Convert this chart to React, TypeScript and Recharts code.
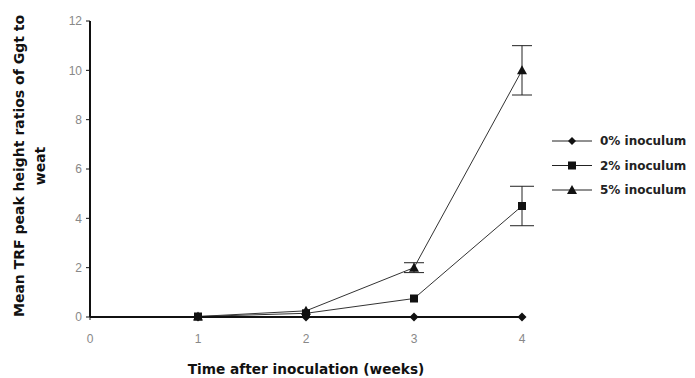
import React from 'react';
import { LineChart, Line, XAxis, YAxis, ErrorBar } from 'recharts';

const weeks = [1, 2, 3, 4];
const inoc0 = [0, 0, 0, 0];
const inoc2 = [0.02, 0.15, 0.75, 4.5];
const inoc5 = [0.02, 0.25, 2.0, 10.0];
const err2: (number | null)[] = [null, null, null, 0.8];
const err5: (number | null)[] = [null, null, 0.2, 1.0];
const yTicks = [0, 2, 4, 6, 8, 10, 12];
const xTicks = [0, 1, 2, 3, 4];
const seriesNames = ['0% inoculum', '2% inoculum', '5% inoculum'];

const data = weeks.map((w, i) => ({
  week: w,
  i0: inoc0[i],
  i2: inoc2[i],
  i5: inoc5[i],
  e2: err2[i] == null ? null : [err2[i], err2[i]],
  e5: err5[i] == null ? null : [err5[i], err5[i]],
}));

const FONT = '"Liberation Sans", Arial, sans-serif';
const BOLD = '"DejaVu Sans", Verdana, sans-serif';

const Diamond = (p: any) => {
  const { cx, cy } = p;
  if (cx == null || cy == null) return null;
  const r = 4.5;
  return <path key={`d${cx}`} d={`M${cx},${cy - r}L${cx + r},${cy}L${cx},${cy + r}L${cx - r},${cy}Z`} fill="#111" />;
};
const Square = (p: any) => {
  const { cx, cy } = p;
  if (cx == null || cy == null) return null;
  const s = 4;
  return <rect key={`s${cx}`} x={cx - s} y={cy - s} width={2 * s} height={2 * s} fill="#111" />;
};
const Triangle = (p: any) => {
  const { cx, cy } = p;
  if (cx == null || cy == null) return null;
  const r = 5;
  return <path key={`t${cx}`} d={`M${cx},${cy - r}L${cx + r},${cy + r * 0.8}L${cx - r},${cy + r * 0.8}Z`} fill="#111" />;
};

const LegendBox = () => {
  const shapes = [
    (x: number, y: number) => <path d={`M${x},${y - 4}L${x + 4},${y}L${x},${y + 4}L${x - 4},${y}Z`} fill="#111" />,
    (x: number, y: number) => <rect x={x - 4} y={y - 4} width={8} height={8} fill="#111" />,
    (x: number, y: number) => <path d={`M${x},${y - 5}L${x + 5},${y + 4}L${x - 5},${y + 4}Z`} fill="#111" />,
  ];
  return (
    <svg width={160} height={80} style={{ position: 'absolute', left: 540, top: 131 }}>
      {seriesNames.map((n, i) => {
        const y = 10 + i * 24.5;
        return (
          <g key={n}>
            <line x1={12} x2={52} y1={y} y2={y} stroke="#222" strokeWidth={1} />
            {shapes[i](32, y)}
            <text x={60} y={y + 4} fontFamily={BOLD} fontSize={12} fontWeight="bold" fill="#222">{n}</text>
          </g>
        );
      })}
    </svg>
  );
};

const YLabel = () => (
  <text transform="rotate(-90)" fontFamily={BOLD} fontSize={14} fontWeight="bold" fill="#111" textAnchor="middle">
    <tspan x={-166} y={24}>Mean TRF peak height ratios of Ggt to</tspan>
    <tspan x={-166} y={45}>weat</tspan>
  </text>
);

export default function App() {
  return (
    <div style={{ position: 'absolute', left: 0, top: 0, width: 695, height: 378, background: '#fff' }}>
      <LineChart width={695} height={378} data={data} margin={{ top: 21, right: 173, bottom: 31, left: 0 }}>
        <XAxis
          dataKey="week"
          type="number"
          domain={[0, 4]}
          ticks={xTicks}
          axisLine={{ stroke: '#111', strokeWidth: 2 }}
          tickLine={{ stroke: '#111' }}
          tickSize={3}
          tickMargin={14}
          height={30}
          tick={{ fill: '#888', fontSize: 12, fontFamily: FONT }}
          label={{ value: 'Time after inoculation (weeks)', position: 'insideBottom', offset: -27, fill: '#111', fontSize: 13.7, fontWeight: 'bold', fontFamily: BOLD }}
        />
        <YAxis
          type="number"
          domain={[0, 12]}
          ticks={yTicks}
          width={90}
          axisLine={{ stroke: '#111', strokeWidth: 2 }}
          tickLine={{ stroke: '#111' }}
          tickSize={4}
          tickMargin={4}
          tick={{ fill: '#888', fontSize: 12, fontFamily: FONT }}
          label={<YLabel />}
        />
        <Line dataKey="i0" stroke="#111" strokeWidth={1.5} dot={<Diamond />} isAnimationActive={false} />
        <Line dataKey="i2" stroke="#333" strokeWidth={1} dot={<Square />} isAnimationActive={false}>
          <ErrorBar dataKey="e2" width={12} stroke="#222" strokeWidth={1} direction="y" />
        </Line>
        <Line dataKey="i5" stroke="#333" strokeWidth={1} dot={<Triangle />} isAnimationActive={false}>
          <ErrorBar dataKey="e5" width={10} stroke="#222" strokeWidth={1} direction="y" />
        </Line>
      </LineChart>
      <LegendBox />
    </div>
  );
}
